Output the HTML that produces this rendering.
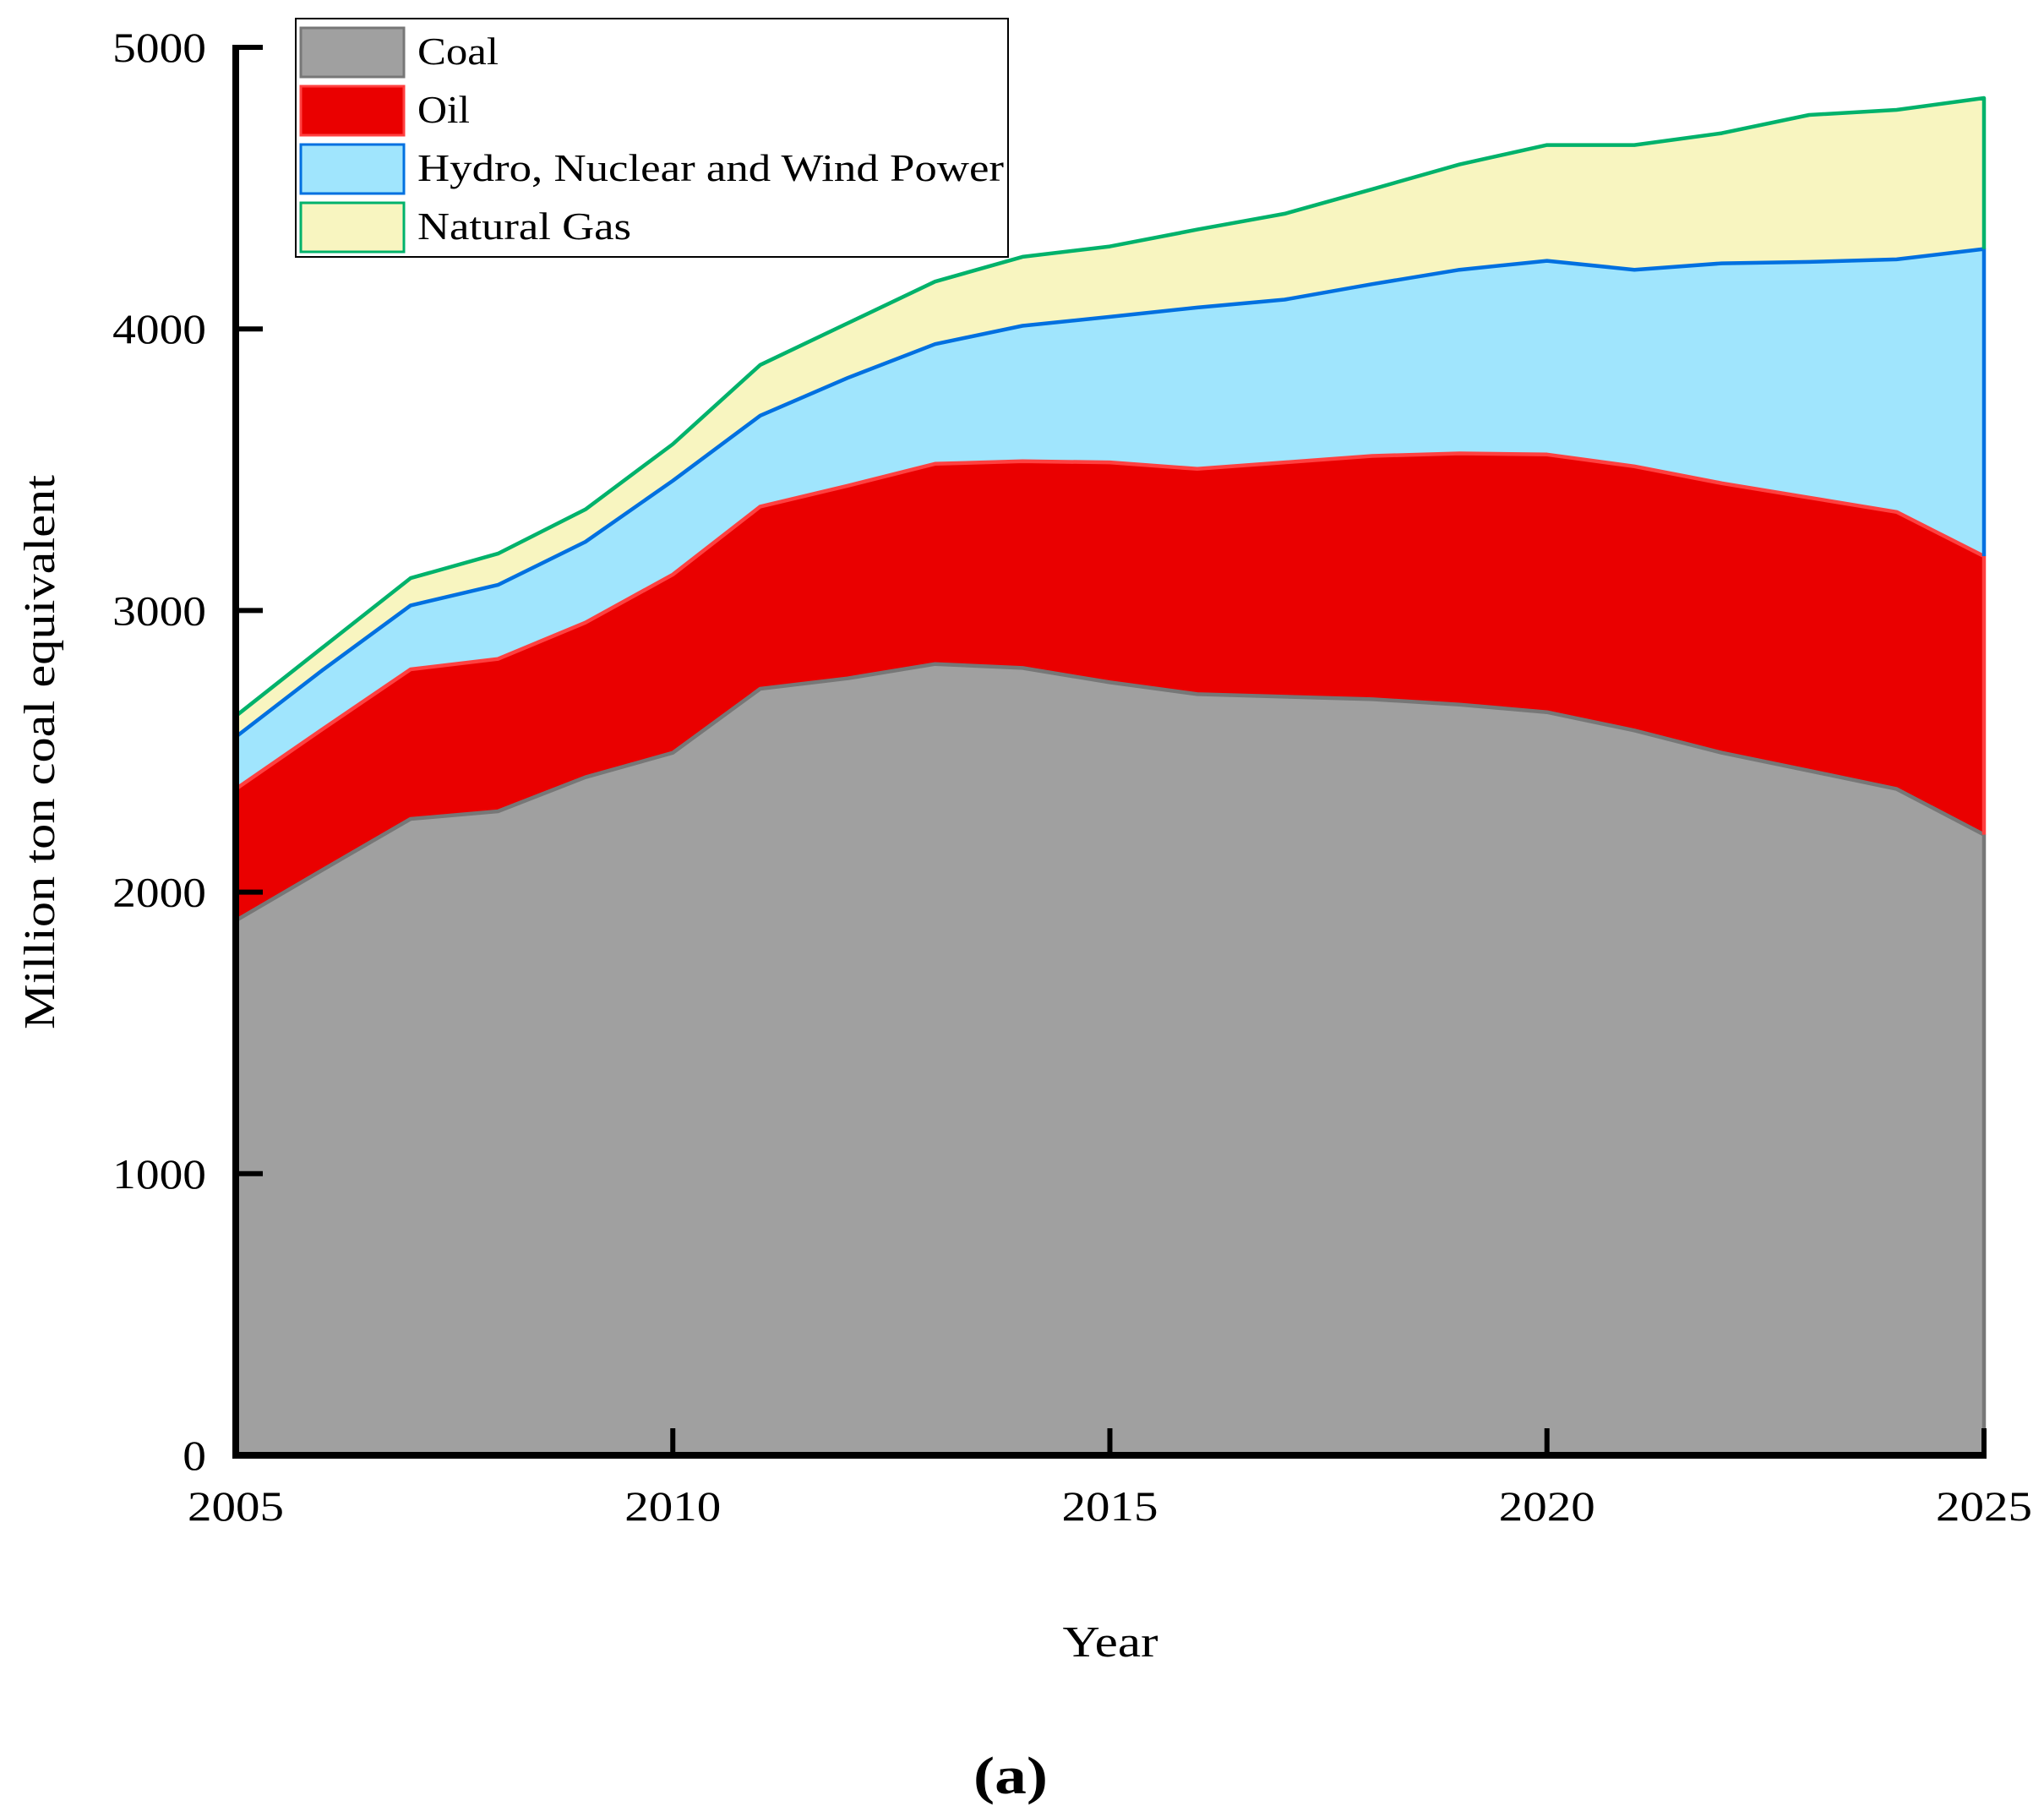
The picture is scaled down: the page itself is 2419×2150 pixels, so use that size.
<!DOCTYPE html>
<html><head><meta charset="utf-8">
<style>
html,body{margin:0;padding:0;background:#fff;}
svg{display:block;}
text{font-family:"Liberation Serif",serif;fill:#000;}
</style></head>
<body>
<svg id="chart" width="2419" height="2150" viewBox="0 0 2419 2150" xmlns="http://www.w3.org/2000/svg">
<g id="areas"></g>
<g id="axes"></g>
<g id="legend">
  <rect x="350" y="22" width="843" height="282" fill="#fff" stroke="#000" stroke-width="2"/>
  <rect x="356" y="33" width="122" height="58" fill="#a0a0a0" stroke="#777" stroke-width="3"/>
  <text x="494" y="76" font-size="46" textLength="96" lengthAdjust="spacingAndGlyphs">Coal</text>
  <rect x="356" y="102" width="122" height="58" fill="#ea0000" stroke="#ff4040" stroke-width="3"/>
  <text x="494" y="145" font-size="46" textLength="62" lengthAdjust="spacingAndGlyphs">Oil</text>
  <rect x="356" y="171" width="122" height="58" fill="#a0e5fd" stroke="#0070e0" stroke-width="3"/>
  <text x="494" y="214" font-size="46" textLength="694" lengthAdjust="spacingAndGlyphs">Hydro, Nuclear and Wind Power</text>
  <rect x="356" y="240" width="122" height="58" fill="#f8f5c0" stroke="#00b26b" stroke-width="3"/>
  <text x="494" y="283" font-size="46" textLength="253" lengthAdjust="spacingAndGlyphs">Natural Gas</text>
</g>
<text transform="translate(64,890) rotate(-90)" text-anchor="middle" font-size="52" textLength="656" lengthAdjust="spacingAndGlyphs">Million ton coal equivalent</text>
<text x="1314" y="1960" text-anchor="middle" font-size="52" textLength="113" lengthAdjust="spacingAndGlyphs">Year</text>
<text x="1196" y="2122" text-anchor="middle" font-size="62" font-weight="bold" textLength="88" lengthAdjust="spacingAndGlyphs">(a)</text>
</svg>
<script>
const years = [2005,2006,2007,2008,2009,2010,2011,2012,2013,2014,2015,2016,2017,2018,2019,2020,2021,2022,2023,2024,2025];
const coal = [1899,2080,2260,2287,2408,2495,2722,2759,2810,2796,2745,2703,2694,2685,2666,2639,2574,2495,2431,2366,2204];
const oil = [467,500,531,541,549,633,647,684,711,734,781,800,832,864,892,915,938,957,970,984,989];
const hydro = [185,210,227,263,287,333,323,383,425,481,517,573,578,610,652,688,698,781,837,897,1091];
const gas = [74,80,97,111,115,130,180,194,222,245,250,277,305,337,374,411,443,462,522,531,536];
const yTicks = [0,1000,2000,3000,4000,5000];
const xTicks = [2005,2010,2015,2020,2025];

const NS = 'http://www.w3.org/2000/svg';
const X0 = 279, X1 = 2348, Y0 = 1722, Y1 = 56;
function xs(v){ return X0 + (v - 2005) / 20 * (X1 - X0); }
function ys(v){ return Y0 - v / 5000 * (Y0 - Y1); }
function mk(tag, attrs, parent){
  const e = document.createElementNS(NS, tag);
  for (const k in attrs) e.setAttribute(k, attrs[k]);
  parent.appendChild(e);
  return e;
}
const areas = document.getElementById('areas');
const axes = document.getElementById('axes');
const series = [
  {vals: coal, fill:'#a0a0a0', stroke:'#777777', name:'coal'},
  {vals: oil, fill:'#ea0000', stroke:'#ff4040', name:'oil'},
  {vals: hydro, fill:'#a0e5fd', stroke:'#0070e0', name:'hydro'},
  {vals: gas, fill:'#f8f5c0', stroke:'#00b26b', name:'gas'}
];
let base = years.map(() => 0);
const layers = [];
series.forEach(s => {
  const top = base.map((b, i) => b + s.vals[i]);
  layers.push({s, base: base.slice(), top});
  base = top;
});
for (let li = layers.length - 1; li >= 0; li--) {
  const L = layers[li];
  let d = '';
  years.forEach((y, i) => { d += (i ? 'L' : 'M') + xs(y).toFixed(1) + ',' + ys(L.top[i]).toFixed(1); });
  for (let i = years.length - 1; i >= 0; i--) d += 'L' + xs(years[i]).toFixed(1) + ',' + ys(L.base[i]).toFixed(1);
  d += 'Z';
  const a = mk('path', {d, fill: L.s.fill, stroke: 'none'}, areas);
  
  
}
layers.forEach(L => {
  let d = '';
  years.forEach((y, i) => { d += (i ? 'L' : 'M') + xs(y).toFixed(1) + ',' + ys(L.top[i]).toFixed(1); });
  const last = years.length - 1;
  d += 'L' + xs(years[last]).toFixed(1) + ',' + ys(L.base[last]).toFixed(1);
  const ln = mk('path', {d, fill: 'none', stroke: L.s.stroke, 'stroke-width': 4.5, 'stroke-linejoin': 'round'}, areas);
  
  
});
const ax = mk('path', {d: `M${X0},${Y1-3}L${X0},${Y0}L${X1+3},${Y0}`, fill:'none', stroke:'#000', 'stroke-width': 8}, axes);


yTicks.forEach(t => {
  const tk = mk('line', {x1: X0, x2: X0 + 32, y1: ys(t), y2: ys(t), stroke:'#000', 'stroke-width': 6}, axes);
  
  
  const w = String(t).length * 27.7;
  const tx = mk('text', {x: 244, y: ys(t) + 17, 'text-anchor':'end', 'font-size': 50, textLength: w, lengthAdjust: 'spacingAndGlyphs'}, axes);
  
  
  tx.textContent = t;
});
xTicks.forEach(t => {
  const tk = mk('line', {x1: xs(t), x2: xs(t), y1: Y0, y2: Y0 - 32, stroke:'#000', 'stroke-width': 6}, axes);
  
  
  const tx = mk('text', {x: xs(t), y: 1799, 'text-anchor':'middle', 'font-size': 50, textLength: 114, lengthAdjust: 'spacingAndGlyphs'}, axes);
  
  
  tx.textContent = t;
});
</script>
</body></html>
